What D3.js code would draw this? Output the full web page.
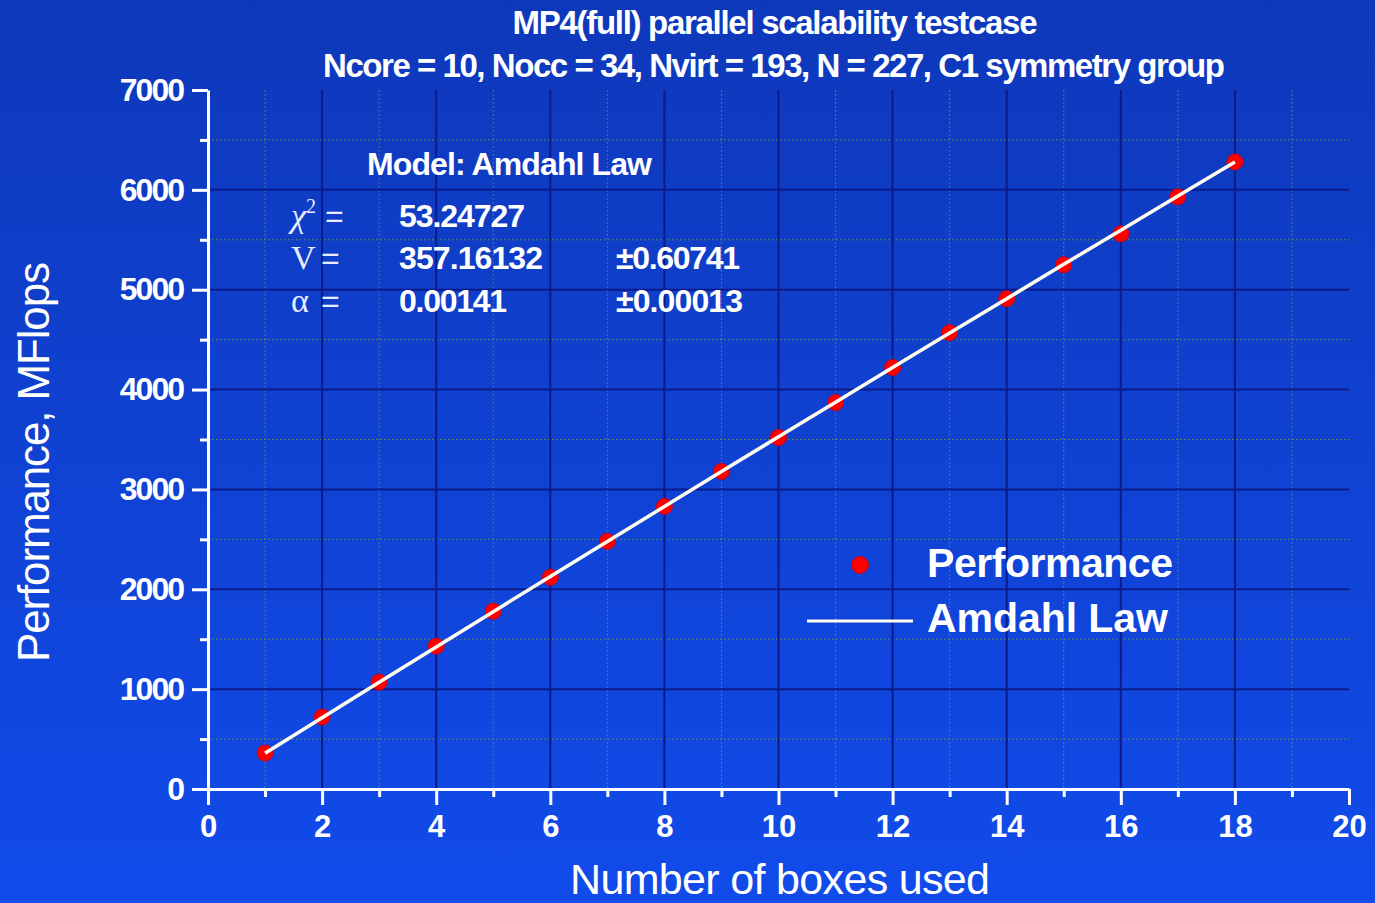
<!DOCTYPE html>
<html><head><meta charset="utf-8">
<script src="https://cdn.jsdelivr.net/npm/d3@7"></script>
<style>html,body{margin:0;padding:0;overflow:hidden;background:#1040d0}</style>
</head><body>
<svg id="chart" width="1375" height="903"></svg>
<script>
// ---- data ----
const boxes = [1,2,3,4,5,6,7,8,9,10,11,12,13,14,15,16,17,18];
const performance = [360,720,1070,1430,1780,2120,2480,2830,3180,3520,3870,4220,4570,4910,5250,5560,5930,6280];
const amdahlFit = [357,713,1068,1423,1776,2128,2479,2829,3179,3527,3874,4220,4566,4910,5254,5596,5938,6278];
const xMajorTicks = [0,2,4,6,8,10,12,14,16,18,20];
const xMinorTicks = [1,3,5,7,9,11,13,15,17,19];
const yMajorTicks = [0,1000,2000,3000,4000,5000,6000,7000];
const yMinorTicks = [500,1500,2500,3500,4500,5500,6500];
const titleLines = ["MP4(full) parallel scalability testcase",
  "Ncore = 10, Nocc = 34, Nvirt = 193, N = 227, C1 symmetry group"];
const fitModel = "Model: Amdahl Law";
const fitRows = [
  {sym:"χ", sup:"2", value:"53.24727", err:""},
  {sym:"V", sup:"", value:"357.16132", err:"±0.60741"},
  {sym:"α", sup:"", value:"0.00141", err:"±0.00013"}
];
const legendLabels = ["Performance","Amdahl Law"];
const xLabel = "Number of boxes used";
const yLabel = "Performance, MFlops";

const svg = d3.select("#chart");
const defs = svg.append("defs");
const bg = defs.append("linearGradient").attr("id","bg").attr("x1",0).attr("y1",0).attr("x2",0).attr("y2",1);
bg.append("stop").attr("offset","0%").attr("stop-color","#0e38ba");
bg.append("stop").attr("offset","100%").attr("stop-color","#114bea");
svg.append("rect").attr("width",1375).attr("height",903).attr("fill","url(#bg)");

const x = d3.scaleLinear().domain([0,20]).range([208,1349]);
const y = d3.scaleLinear().domain([0,7000]).range([789,90]);
const SANS = "'Liberation Sans', Arial, sans-serif";
const SERIF = "'Liberation Serif', 'Times New Roman', serif";

// grid minor (dotted)
const grid = svg.append("g");
grid.selectAll(".vmin").data(xMinorTicks).enter().append("line")
  .attr("x1",d=>x(d)).attr("x2",d=>x(d)).attr("y1",y(7000)).attr("y2",y(0))
  .attr("stroke","#73a040").attr("stroke-width",1).attr("stroke-dasharray","1.5,2.5").attr("opacity",0.85);
grid.selectAll(".hmin").data(yMinorTicks).enter().append("line")
  .attr("x1",x(0)).attr("x2",x(20)).attr("y1",d=>y(d)).attr("y2",d=>y(d))
  .attr("stroke","#73a040").attr("stroke-width",1).attr("stroke-dasharray","1.5,2.5").attr("opacity",0.85);
// grid major
grid.selectAll(".vmaj").data(xMajorTicks.filter(d=>d>0&&d<20)).enter().append("line")
  .attr("x1",d=>x(d)).attr("x2",d=>x(d)).attr("y1",y(7000)).attr("y2",y(0))
  .attr("stroke","#0c1a8a").attr("stroke-width",2);
grid.selectAll(".hmaj").data(yMajorTicks.filter(d=>d>0&&d<7000)).enter().append("line")
  .attr("x1",x(0)).attr("x2",x(20)).attr("y1",d=>y(d)).attr("y2",d=>y(d))
  .attr("stroke","#0c1a8a").attr("stroke-width",2);

// axes
function styleAxis(g){
  g.select(".domain").attr("stroke","#fff").attr("stroke-width",3);
  g.selectAll(".tick line").attr("stroke","#fff").attr("stroke-width",3);
}
const xAxis = svg.append("g").attr("transform",`translate(0,${y(0)})`)
  .call(d3.axisBottom(x).tickValues(xMajorTicks).tickSize(16).tickSizeOuter(0).tickPadding(10).tickFormat(d3.format("d")));
styleAxis(xAxis);
xAxis.selectAll(".tick text").attr("fill","#fff").attr("font-family",SANS).attr("font-size",31).attr("font-weight","bold");
const xAxisMinor = svg.append("g").attr("transform",`translate(0,${y(0)})`)
  .call(d3.axisBottom(x).tickValues(xMinorTicks).tickSize(8).tickSizeOuter(0).tickFormat(""));
styleAxis(xAxisMinor); xAxisMinor.select(".domain").remove();

const yAxis = svg.append("g").attr("transform",`translate(${x(0)},0)`)
  .call(d3.axisLeft(y).tickValues(yMajorTicks).tickSize(16).tickSizeOuter(0).tickPadding(9).tickFormat(d3.format("d")));
styleAxis(yAxis);
yAxis.selectAll(".tick text").attr("fill","#fff").attr("font-family",SANS).attr("font-size",32).attr("font-weight","bold").attr("letter-spacing",-2);
const yAxisMinor = svg.append("g").attr("transform",`translate(${x(0)},0)`)
  .call(d3.axisLeft(y).tickValues(yMinorTicks).tickSize(8).tickSizeOuter(0).tickFormat(""));
styleAxis(yAxisMinor); yAxisMinor.select(".domain").remove();

// points
svg.append("g").selectAll("circle").data(boxes).enter().append("circle")
  .attr("cx",d=>x(d)).attr("cy",(d,i)=>y(performance[i])).attr("r",8)
  .attr("fill","#ff0000").attr("stroke","#d00010").attr("stroke-width",1);
// fit line
const line = d3.line().x(d=>x(d)).y((d,i)=>y(amdahlFit[i]));
svg.append("path").datum(boxes).attr("d",line).attr("fill","none")
  .attr("stroke","#fffdf0").attr("stroke-width",3.5);

// title
svg.append("text").attr("x",775).attr("y",34).attr("text-anchor","middle")
  .attr("textLength",525).attr("lengthAdjust","spacing")
  .attr("fill","#fff").attr("font-family",SANS).attr("font-size",33).attr("font-weight","bold").text(titleLines[0]);
svg.append("text").attr("x",774).attr("y",77).attr("text-anchor","middle")
  .attr("textLength",902).attr("lengthAdjust","spacing")
  .attr("fill","#fff").attr("font-family",SANS).attr("font-size",33).attr("font-weight","bold").text(titleLines[1]);

// fit annotation
svg.append("text").attr("x",367).attr("y",175).attr("textLength",285).attr("lengthAdjust","spacing")
  .attr("fill","#fff").attr("font-family",SANS).attr("font-size",32).attr("font-weight","bold").text(fitModel);
const rowY = [227, 269, 312];
const valLen = [126,144,108], errLen = [0,124,127];
fitRows.forEach((r,i)=>{
  const t = svg.append("text").attr("x",291).attr("y",rowY[i]).attr("fill","#e8ecff")
    .attr("font-family",SERIF).attr("font-size",34);
  t.append("tspan").attr("font-style", r.sym==="χ"?"italic":"normal").text(r.sym);
  if(r.sup) t.append("tspan").attr("dy",-14).attr("font-size",20).text(r.sup);
  svg.append("text").attr("x", r.sup?325:321).attr("y",rowY[i]).attr("fill","#e8ecff")
    .attr("font-family",SANS).attr("font-size",32).text("=");
  svg.append("text").attr("x",399).attr("y",rowY[i]).attr("textLength",valLen[i]).attr("lengthAdjust","spacing")
    .attr("fill","#fff").attr("font-family",SANS).attr("font-size",32).attr("font-weight","bold").text(r.value);
  if(r.err) svg.append("text").attr("x",616).attr("y",rowY[i]).attr("textLength",errLen[i]).attr("lengthAdjust","spacing")
    .attr("fill","#fff").attr("font-family",SANS).attr("font-size",32).attr("font-weight","bold").text(r.err);
});

// legend
svg.append("circle").attr("cx",860).attr("cy",565).attr("r",8.5).attr("fill","#ff0000").attr("stroke","#d00010");
svg.append("line").attr("x1",807).attr("x2",913).attr("y1",621).attr("y2",621).attr("stroke","#fffdf0").attr("stroke-width",3);
svg.append("text").attr("x",927).attr("y",577).attr("textLength",246).attr("lengthAdjust","spacing")
  .attr("fill","#fff").attr("font-family",SANS).attr("font-size",41).attr("font-weight","bold").text(legendLabels[0]);
svg.append("text").attr("x",927).attr("y",632).attr("textLength",241).attr("lengthAdjust","spacing")
  .attr("fill","#fff").attr("font-family",SANS).attr("font-size",41).attr("font-weight","bold").text(legendLabels[1]);

// axis titles
svg.append("text").attr("x",780).attr("y",894).attr("text-anchor","middle")
  .attr("textLength",420).attr("lengthAdjust","spacing")
  .attr("fill","#fff").attr("font-family",SANS).attr("font-size",43).text(xLabel);
svg.append("text").attr("transform","translate(49,462) rotate(-90)").attr("text-anchor","middle")
  .attr("textLength",400).attr("lengthAdjust","spacing")
  .attr("fill","#fff").attr("font-family",SANS).attr("font-size",44).text(yLabel);
</script>
</body></html>
